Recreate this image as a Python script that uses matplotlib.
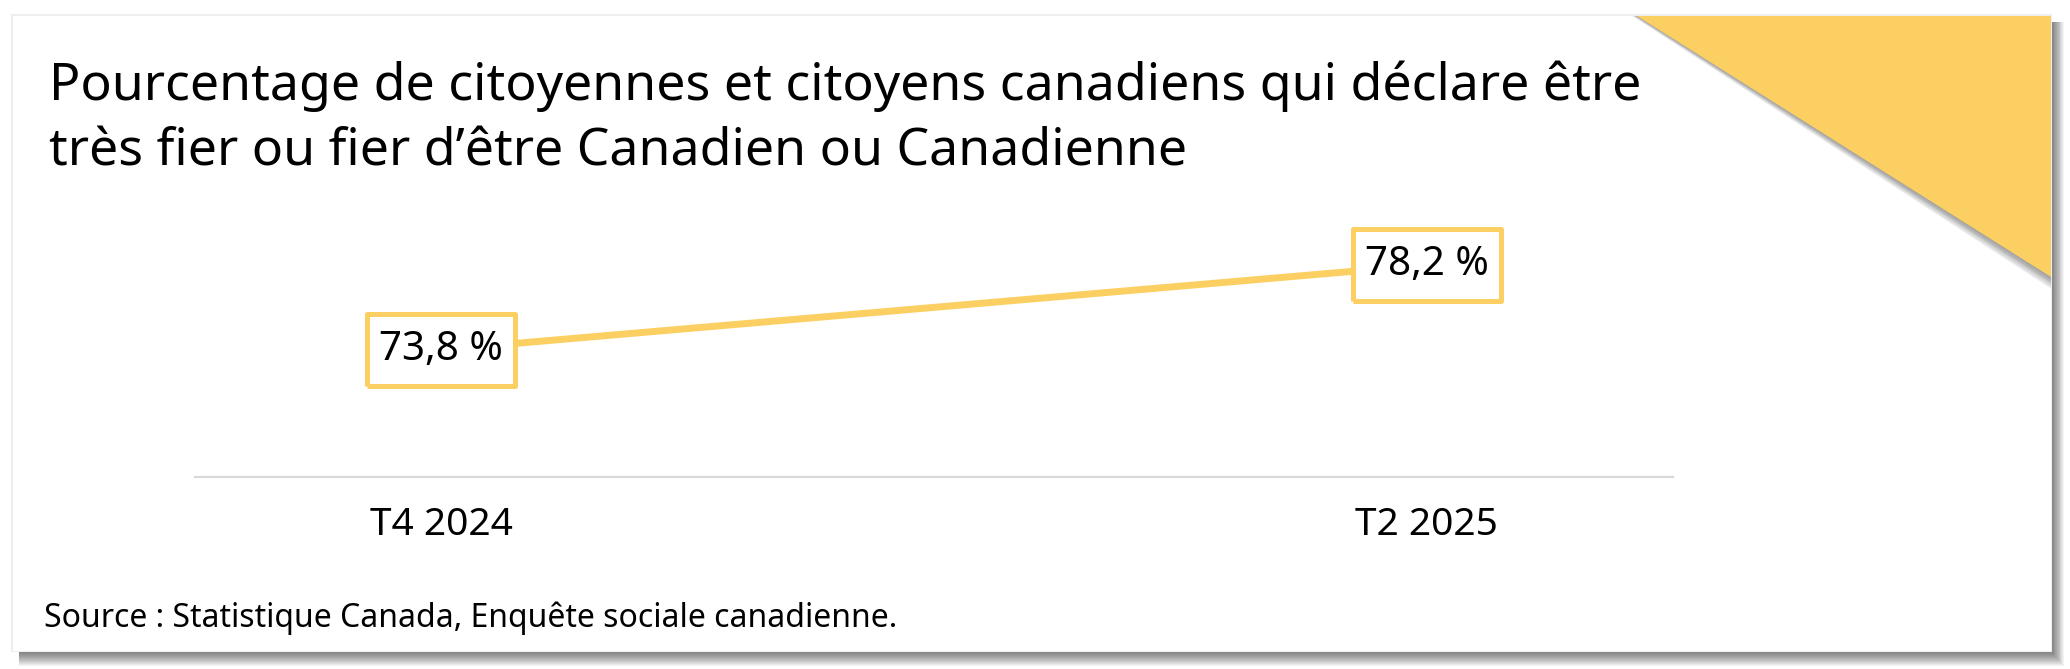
import matplotlib.pyplot as plt
from matplotlib.patches import Rectangle, Polygon

plt.rcParams['font.family'] = ['Noto Sans', 'DejaVu Sans']

title_lines = ["Pourcentage de citoyennes et citoyens canadiens qui déclare être",
               "très fier ou fier d’être Canadien ou Canadienne"]
periods = ["T4 2024", "T2 2025"]
values = [73.8, 78.2]
value_labels = ["73,8 %", "78,2 %"]
source = "Source : Statistique Canada, Enquête sociale canadienne."

yellow = '#fccf62'
W, H = 2070, 669

fig = plt.figure(figsize=(W / 100, H / 100), dpi=100)
fig.patch.set_facecolor('white')

def fx(px):
    return px / W

def fy(py):
    return 1 - py / H

# card with a drop shadow to the right and below
cl, cr, ct, cb = 13, 2051, 16, 651
for i in range(15, 0, -1):
    fig.add_artist(Rectangle((fx(cl + 6), fy(cb + i)), fx(cr - cl - 6 + i * 0.85), fy(ct + 6) - fy(cb + i),
                             transform=fig.transFigure, fc='black', ec='none', alpha=0.042, zorder=0))
fig.add_artist(Rectangle((fx(cl - 1), fy(cb)), fx(cr - cl + 1), fy(ct - 1) - fy(cb),
                         transform=fig.transFigure, fc='none', ec='#eeeeee', lw=1.5, zorder=0.5))
fig.add_artist(Rectangle((fx(cl), fy(cb)), fx(cr - cl), fy(ct) - fy(cb),
                         transform=fig.transFigure, fc='white', ec='none', zorder=1))

# yellow corner with shadow along its edge
tri = [(1637, ct), (cr, ct), (cr, 277)]
for i in range(10, 0, -1):
    pts = [(fx(1637 - i * 0.5), fy(ct)), (fx(cr), fy(ct)), (fx(cr), fy(277 + i * 1.2))]
    fig.add_artist(Polygon(pts, closed=True, transform=fig.transFigure,
                           fc='black', ec='none', alpha=0.045, zorder=2))
fig.add_artist(Polygon([(fx(x), fy(y)) for x, y in tri], closed=True,
                       transform=fig.transFigure, fc=yellow, ec='none', zorder=3))

# title and source
fig.text(fx(49), fy(100), title_lines[0], fontsize=37.3, va='baseline', ha='left', zorder=4)
fig.text(fx(49), fy(166), title_lines[1], fontsize=37.3, va='baseline', ha='left', zorder=4)
fig.text(fx(44), fy(618), source, fontsize=23, va='center', ha='left', zorder=4)

# chart area
ax_l, ax_r, ax_t, ax_b = 195, 1673, 211, 477
ax = fig.add_axes([fx(ax_l), fy(ax_b), fx(ax_r - ax_l), fy(ax_t) - fy(ax_b)])
ax.set_zorder(5)
ax.patch.set_alpha(0)

x = list(range(len(periods)))
ax.plot(x, values, color=yellow, lw=5, solid_capstyle='butt', zorder=2)
box = [(-1, -0.48), (1, -0.48), (1, 0.48), (-1, 0.48), (-1, -0.48)]
ax.plot(x, values, ls='none', marker=box, ms=107, mfc='white', mec=yellow, mew=3.6,
        zorder=3)
for xi, v, lab in zip(x, values, value_labels):
    ax.text(xi, v, lab, ha='center', va='center', fontsize=29, zorder=4)

ax.set_xlim(-0.25, 1.25)
ax.set_ylim(67.2, 81.0)
ax.set_yticks([])
ax.set_xticks(x, periods, fontsize=28)
ax.tick_params(axis='x', length=0, pad=21)
for s in ['top', 'left', 'right']:
    ax.spines[s].set_visible(False)
ax.spines['bottom'].set_color('#d9d9d9')
ax.spines['bottom'].set_linewidth(1.6)

fig.savefig('out.png', dpi=100, facecolor='white')
